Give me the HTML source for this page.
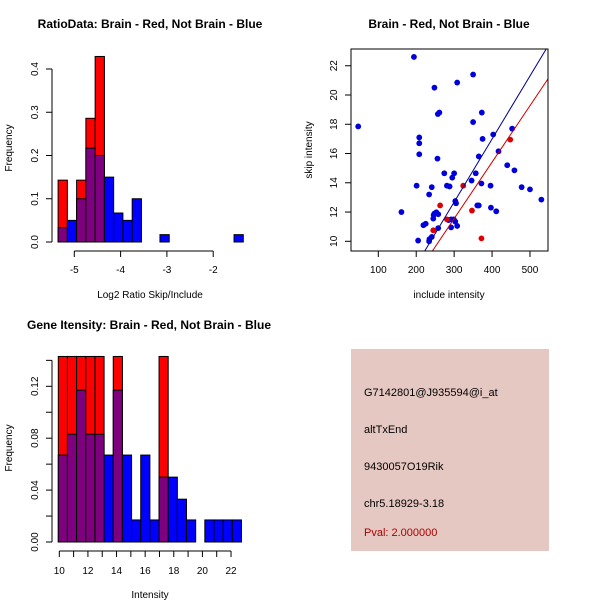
<!DOCTYPE html>
<html><head><meta charset="utf-8"><style>
body{margin:0;background:#fff;}
svg{display:block;font-family:"Liberation Sans",sans-serif;}
</style></head><body>
<svg id="c" width="600" height="600"></svg>
<script>
// Panel 1: ratio histogram
const ratioStart = -5.35, ratioWidth = 0.2;
const ratioBlue = [0.033,0.05,0.1,0.217,0.2,0.15,0.067,0.05,0.1,0,0,0.017,0,0,0,0,0,0,0,0.017];
const ratioRed  = [0.143,0,0.143,0.286,0.429,0,0,0,0,0,0,0,0,0,0,0,0,0,0,0];
const ratioXTicks = [-5,-4,-3,-2];
const ratioYTicks = [0,0.1,0.2,0.3,0.4];
const ratioYLabels = ["0.0","0.1","0.2","0.3","0.4"];
// Panel 2: scatter
const blueX = [194,350,308,248,47,257,261,373,350,208,208,208,375,403,453,417,365,256,440,459,274,300,295,357,346,372,201,281,288,241,396,478,500,234,530,303,305,361,365,397,411,161,253,248,258,246,245,292,299,285,303,225,219,292,308,258,241,235,234,205];
const blueY = [22.6,21.4,20.85,20.5,17.85,18.7,18.8,18.8,18.15,17.1,16.7,15.95,17,17.3,17.7,16.15,15.8,15.65,15.2,14.85,14.65,14.65,14.35,14.65,14.15,13.95,13.8,13.8,13.75,13.7,13.8,13.7,13.55,13.2,12.85,12.75,12.6,12.45,12.45,12.3,12.05,12,11.98,11.9,11.85,11.8,11.55,11.5,11.5,11.45,11.35,11.2,11.1,10.95,11.05,10.9,10.3,10.15,10,10.05];
const redX = [263,281,245,324,347,372,448];
const redY = [12.45,11.5,10.75,13.8,12.1,10.2,16.95];
const blueFit = [-0.25,0.0431];
const redFit = [-0.03,0.0386];
const scatXTicks = [100,200,300,400,500];
const scatYTicks = [10,12,14,16,18,20,22];
// Panel 3: intensity histogram
const intStart = 9.93, intWidth = 0.64;
const intBlue = [0.067,0.083,0.117,0.083,0.083,0.067,0.117,0.067,0.017,0.067,0.017,0.05,0.05,0.033,0.017,0,0.017,0.017,0.017,0.017];
const intRed  = [0.143,0.143,0.143,0.143,0.143,0,0.143,0,0,0,0,0.143,0,0,0,0,0,0,0,0];
const intXTicks = [10,12,14,16,18,20,22];
const intYTicks = [0,0.04,0.08,0.12];
const intYLabels = ["0.00","0.04","0.08","0.12"];
const infoLines = ["G7142801@J935594@i_at","altTxEnd","9430057O19Rik","chr5.18929-3.18"];

const svg = document.getElementById('c');
const NS = 'http://www.w3.org/2000/svg';
function mk(tag, attrs, parent){const e=document.createElementNS(NS,tag);for(const k in attrs)e.setAttribute(k,attrs[k]);(parent||svg).appendChild(e);return e;}
function txt(x,y,s,opt){const e=mk('text',Object.assign({x:x,y:y,'font-size':10,'text-anchor':'middle',fill:'#000'},opt||{}));e.textContent=s;return e;}

function hist(g, start, w, red, blue, sx, sy, y0){
  for(let i=0;i<red.length;i++){
    const x0=sx(start+i*w), x1=sx(start+(i+1)*w);
    const r=red[i], b=blue[i];
    const hi=Math.max(r,b), lo=Math.min(r,b);
    if(hi>0){
      const e=mk('rect',{x:x0,y:sy(hi),width:x1-x0,height:y0-sy(hi),fill:r>b?'#ff0000':'#0000ff',stroke:'#000','stroke-width':1},g);
      
      
    }
    if(lo>0){
      const e=mk('rect',{x:x0,y:sy(lo),width:x1-x0,height:y0-sy(lo),fill:'#7f007f',stroke:'#000','stroke-width':1},g);
      
      
    }
  }
}

// ---- Panel 1
(function(){
  const g=mk('g',{});
  const sx=v=>74.3+(v+5)*46.3, sy=v=>242-v*432.5;
  txt(150,28,'RatioData: Brain - Red, Not Brain - Blue',{'font-size':12,'font-weight':'bold',});
  hist(g,ratioStart,ratioWidth,ratioRed,ratioBlue,sx,sy,242);
  mk('line',{x1:52,x2:52,y1:sy(0),y2:sy(0.4),stroke:'#000'},g);
  ratioYTicks.forEach((t,i)=>{mk('line',{x1:46,x2:52,y1:sy(t),y2:sy(t),stroke:'#000'},g);
    txt(0,0,ratioYLabels[i],{transform:`translate(38,${sy(t)}) rotate(-90)`,'font-size':10});});
  mk('line',{x1:sx(-5),x2:sx(-2),y1:251,y2:251,stroke:'#000'},g);
  ratioXTicks.forEach(t=>{mk('line',{x1:sx(t),x2:sx(t),y1:251,y2:257,stroke:'#000'},g);txt(sx(t),273,String(t));});
  txt(150,298,'Log2 Ratio Skip/Include',{});
  txt(0,0,'Frequency',{transform:'translate(12,148) rotate(-90)',});
})();

// ---- Panel 2
(function(){
  const g=mk('g',{});
  const sx=v=>378.3+(v-100)*0.3792, sy=v=>241.3-(v-10)*14.63;
  txt(449,28,'Brain - Red, Not Brain - Blue',{'font-size':12,'font-weight':'bold',});
  mk('defs',{},g).innerHTML='<clipPath id="cp"><rect x="351" y="49" width="197" height="202"/></clipPath>';
  const lg=mk('g',{'clip-path':'url(#cp)'},g);
  for(let i=0;i<blueX.length;i++){const e=mk('circle',{cx:sx(blueX[i]),cy:sy(blueY[i]),r:2.9,fill:'#0000dd'},lg);
    }
  for(let i=0;i<redX.length;i++){const e=mk('circle',{cx:sx(redX[i]),cy:sy(redY[i]),r:2.9,fill:'#dd0000'},lg);
    }
  [[blueFit,'#00008b','fit-line-not-brain'],[redFit,'#cc0000','fit-line-brain']].forEach(([f,c,n])=>{
    const e=mk('line',{x1:sx(0),y1:sy(f[0]),x2:sx(700),y2:sy(f[0]+f[1]*700),stroke:c,'stroke-width':1},lg);
    });
  mk('rect',{x:351,y:49,width:197,height:202,fill:'none',stroke:'#000'},g);
  scatYTicks.forEach(t=>{mk('line',{x1:345,x2:351,y1:sy(t),y2:sy(t),stroke:'#000'},g);
    txt(0,0,String(t),{transform:`translate(337,${sy(t)}) rotate(-90)`});});
  scatXTicks.forEach(t=>{mk('line',{x1:sx(t),x2:sx(t),y1:251,y2:257,stroke:'#000'},g);txt(sx(t),273,String(t));});
  txt(449,298,'include intensity',{});
  txt(0,0,'skip intensity',{transform:'translate(312,150) rotate(-90)',});
})();

// ---- Panel 3
(function(){
  const g=mk('g',{});
  const sx=v=>59.3+(v-10)*14.31, sy=v=>542-v*1297.5;
  txt(149,329,'Gene Itensity: Brain - Red, Not Brain - Blue',{'font-size':12,'font-weight':'bold',});
  hist(g,intStart,intWidth,intRed,intBlue,sx,sy,542);
  mk('line',{x1:52,x2:52,y1:sy(0),y2:sy(0.14),stroke:'#000'},g);
  for(let t=0;t<=0.1401;t+=0.02) mk('line',{x1:46,x2:52,y1:sy(t),y2:sy(t),stroke:'#000'},g);
  intYTicks.forEach((t,i)=>txt(0,0,intYLabels[i],{transform:`translate(38,${sy(t)}) rotate(-90)`}));
  mk('line',{x1:sx(10),x2:sx(22),y1:551,y2:551,stroke:'#000'},g);
  for(let t=10;t<=22;t++) mk('line',{x1:sx(t),x2:sx(t),y1:551,y2:557,stroke:'#000'},g);
  intXTicks.forEach(t=>txt(sx(t),574,String(t)));
  txt(150,598,'Intensity',{});
  txt(0,0,'Frequency',{transform:'translate(12,448) rotate(-90)',});
})();

// ---- Panel 4
(function(){
  const g=mk('g',{});
  mk('rect',{x:351,y:349,width:198,height:202,fill:'#e6c8c2'},g);
  const ys=[396,433,470,507];
  infoLines.forEach((s,i)=>txt(364,ys[i],s,{'text-anchor':'start','font-size':11}));
  txt(364,536,'Pval: 2.000000',{'text-anchor':'start','font-size':11,fill:'#aa0000',});
})();
</script>
</body></html>
